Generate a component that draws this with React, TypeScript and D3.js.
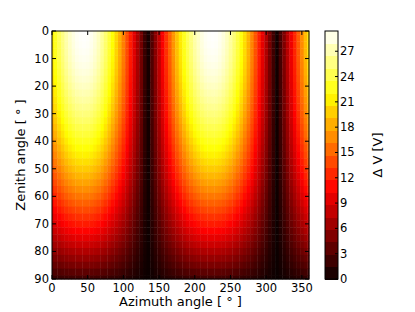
import * as d3 from 'd3';

// azimuth profile of ΔV at zenith 0, every 5 degrees (0..360)
const AZIMUTHS = d3.range(0, 361, 5);
const TOP_ROW = [
  21.5, 23, 24.5, 25.8, 27, 27.9, 28.6, 29.1, 29.3, 29.4, 29.3, 29, 28.4, 27.6, 26.5, 25.2, 23.7, 22,
  20.2, 18.4, 16.4, 14.2, 11.9, 9.5, 7.1, 4.6, 2.0, 0.5, 3.1, 5.6, 8.1, 10.5, 12.9, 15.1, 17.3, 19.3,
  21.1, 22.8, 24.4, 25.7, 26.9, 27.8, 28.6, 29.1, 29.3, 29.4, 29.3, 29, 28.4, 27.6, 26.6, 25.4, 24,
  22.4, 20.6, 18.7, 16.6, 14.4, 12.1, 9.7, 7.3, 4.8, 2.3, 0.3, 2.6, 5.1, 7.6, 10.1, 12.4, 14.7, 16.9,
  19, 20.9,
];

// relative falloff with zenith angle, every 2.5 degrees (0..90)
const ZENITHS = d3.range(0, 90.1, 2.5);
const ZENITH_FACTOR = [
  1.0, 0.998, 0.995, 0.99, 0.984, 0.976, 0.966, 0.954, 0.94, 0.925, 0.908, 0.89, 0.87, 0.85, 0.828,
  0.805, 0.78, 0.755, 0.728, 0.7, 0.67, 0.64, 0.61, 0.578, 0.545, 0.51, 0.475, 0.44, 0.405, 0.37,
  0.33, 0.29, 0.25, 0.21, 0.17, 0.125, 0.085,
];

const X_TICKS = [0, 50, 100, 150, 200, 250, 300, 350];
const Y_TICKS = [0, 10, 20, 30, 40, 50, 60, 70, 80, 90];
const CBAR_TICKS = [0, 3, 6, 9, 12, 15, 18, 21, 24, 27];
const V_MAX = 29.4;
const N_LEVELS = 20;

// matplotlib "hot"
function hot(t: number) {
  const c = (v: number) => Math.round(Math.max(0, Math.min(1, v)) * 255);
  const r = 0.0416 + (1 - 0.0416) * (t / 0.365);
  return `rgb(${c(r)},${c((t - 0.365) / 0.381)},${c((t - 0.746) / 0.254)})`;
}

const step = V_MAX / N_LEVELS;

export default function App() {
  const W = 415;
  const H = 312;
  const left = 52, right = 309, top = 31, bottom = 279;

  const x = d3.scaleLinear().domain([0, 360]).range([left, right]);
  const y = d3.scaleLinear().domain([0, 90]).range([top, bottom]);
  const cb = d3.scaleLinear().domain([0, V_MAX]).range([bottom, top]);
  const color = d3.scaleLinear<number>().domain([0, V_MAX]).range([0, 1]).clamp(true);
  const cbL = 325, cbR = 338;

  const cells: JSX.Element[] = [];
  ZENITHS.forEach((z, j) => {
    AZIMUTHS.forEach((a, i) => {
      const v = TOP_ROW[i] * ZENITH_FACTOR[j];
      const x0 = x(Math.max(0, a - 2.5));
      const x1 = x(Math.min(360, a + 2.5));
      const y0 = y(Math.max(0, z - 1.25));
      const y1 = y(Math.min(90, z + 1.25));
      cells.push(
        <rect key={`${i}-${j}`} x={x0} y={y0} width={x1 - x0 + 0.4} height={y1 - y0 + 0.4}
          fill={hot(color(v))} />
      );
    });
  });

  const font = 'DejaVu Sans, sans-serif';

  return (
    <svg width={W} height={H} style={{ position: 'absolute', left: 0, top: 0 }} fontFamily={font}>
      <rect width={W} height={H} fill="#fff" />
      <g>{cells}</g>

      {/* ticks inward on all sides */}
      {X_TICKS.map((t) => (
        <g key={`xt${t}`}>
          <line x1={x(t)} x2={x(t)} y1={bottom} y2={bottom - 4} stroke="#000" />
          <line x1={x(t)} x2={x(t)} y1={top} y2={top + 4} stroke="#000" />
          <text x={x(t)} y={292} fontSize={11.5} textAnchor="middle">{t}</text>
        </g>
      ))}
      {Y_TICKS.map((t) => (
        <g key={`yt${t}`}>
          <line x1={left} x2={left + 4} y1={y(t)} y2={y(t)} stroke="#000" />
          <line x1={right} x2={right - 4} y1={y(t)} y2={y(t)} stroke="#000" />
          <text x={49} y={y(t)} dy="0.35em" fontSize={11.5} textAnchor="end">{t}</text>
        </g>
      ))}
      <rect x={left} y={top} width={right - left} height={bottom - top} fill="none" stroke="#000" />

      <text x={(left + right) / 2} y={306} fontSize={13} textAnchor="middle">Azimuth angle [ ° ]</text>
      <text transform={`translate(25,${(top + bottom) / 2}) rotate(-90)`} fontSize={13} textAnchor="middle">
        Zenith angle [ ° ]
      </text>

      {/* colorbar, discrete levels */}
      <g shapeRendering="crispEdges">
        {d3.range(N_LEVELS).map((k) => (
          <rect key={`cb${k}`} x={cbL} width={cbR - cbL} y={cb((k + 1) * step)}
            height={cb(k * step) - cb((k + 1) * step) + 0.5} fill={hot((k + 0.5) / N_LEVELS)} />
        ))}
      </g>
      <rect x={cbL} y={top} width={cbR - cbL} height={bottom - top} fill="none" stroke="#000" />
      {CBAR_TICKS.map((t) => (
        <g key={`ct${t}`}>
          <line x1={cbR - 3} x2={cbR} y1={cb(t)} y2={cb(t)} stroke="#000" />
          <text x={340} y={cb(t)} dy="0.35em" fontSize={11.5}>{t}</text>
        </g>
      ))}
      <text transform={`translate(377,${(top + bottom) / 2}) rotate(-90)`} fontSize={13} textAnchor="middle" dy="0.35em">
        Δ V [V]
      </text>
    </svg>
  );
}
